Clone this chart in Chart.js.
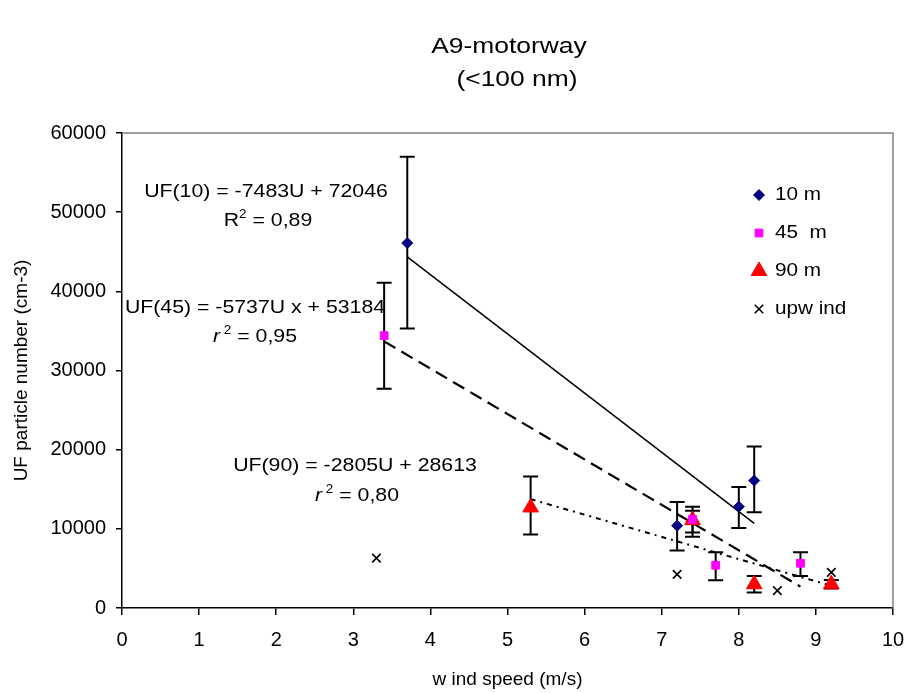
<!DOCTYPE html>
<html>
<head>
<meta charset="utf-8">
<script src="https://cdn.jsdelivr.net/npm/chart.js@4.4.0/dist/chart.umd.min.js"></script>
<style>
  html, body { margin: 0; padding: 0; background: #fff; }
  #wrap { width: 907px; height: 693px; }
</style>
</head>
<body>
<div id="wrap"><canvas id="ufChart" width="907" height="693"></canvas></div>
<script>
// values
const speed10 = [3.7, 7.2, 8.0, 8.2];
const uf10 = [46100, 10400, 12800, 16100];
const uf10Hi = [57000, 13400, 15300, 20400];
const uf10Lo = [35300, 7250, 10100, 12100];

const speed45 = [3.4, 7.4, 7.7, 8.8];
const uf45 = [34400, 11200, 5400, 5650];
const uf45Hi = [41100, 12800, 7050, 7050];
const uf45Lo = [27700, 9000, 3500, 4050];

const speed90 = [5.3, 7.4, 8.2, 9.2];
const uf90 = [12700, 11100, 3000, 3000];
const uf90Hi = [16600, 12300, 4050, 3550];
const uf90Lo = [9300, 9550, 1950, 2450];

const speedUp = [3.3, 7.2, 8.5, 9.2];
const ufUp = [6300, 4250, 2200, 4500];

// trend line end points
const trend10X = [3.7, 8.2];
const trend10Y = [44350, 10680];
const trend45X = [3.4, 8.8];
const trend45Y = [33680, 2700];
const trend90X = [5.3, 9.2];
const trend90Y = [13750, 2810];

const xTicks = [0, 1, 2, 3, 4, 5, 6, 7, 8, 9, 10];
const yTicks = [0, 10000, 20000, 30000, 40000, 50000, 60000];

const FONT = "'Liberation Sans', Arial, sans-serif";

function pts(xs, ys) {
  return xs.map((x, i) => ({ x: x, y: ys[i] }));
}

// draws text with a horizontal stretch, like the original export
function drawRich(ctx, parts, cx, cy, size, sx, align) {
  let w = 0;
  parts.forEach(p => {
    ctx.font = (p.italic ? "italic " : "") + (p.sup ? Math.round(size * 0.65) : size) + "px " + FONT;
    p.w = ctx.measureText(p.t).width;
    w += p.w;
  });
  ctx.save();
  ctx.translate(cx, cy);
  ctx.scale(sx, 1);
  ctx.fillStyle = "#000";
  ctx.textBaseline = "middle";
  ctx.textAlign = "left";
  let x = align === "left" ? 0 : -w / 2;
  parts.forEach(p => {
    ctx.font = (p.italic ? "italic " : "") + (p.sup ? Math.round(size * 0.65) : size) + "px " + FONT;
    ctx.fillText(p.t, x, p.sup ? -size * 0.33 : 0);
    x += p.w;
  });
  ctx.restore();
}

const errorBars = {
  id: "errorBars",
  beforeDatasetsDraw(chart) {
    const { ctx, scales: { x, y } } = chart;
    ctx.save();
    ctx.strokeStyle = "#000";
    ctx.lineWidth = 2;
    chart.data.datasets.forEach(ds => {
      if (!ds.errHi) return;
      ds.data.forEach((p, i) => {
        const px = x.getPixelForValue(p.x);
        const yHi = y.getPixelForValue(ds.errHi[i]);
        const yLo = y.getPixelForValue(ds.errLo[i]);
        ctx.beginPath();
        ctx.moveTo(px, yHi);
        ctx.lineTo(px, yLo);
        ctx.moveTo(px - 7.5, yHi);
        ctx.lineTo(px + 7.5, yHi);
        ctx.moveTo(px - 7.5, yLo);
        ctx.lineTo(px + 7.5, yLo);
        ctx.stroke();
      });
    });
    ctx.restore();
  }
};

const decorations = {
  id: "decorations",
  afterDraw(chart) {
    const { ctx, chartArea: a } = chart;
    // top and right frame
    ctx.save();
    ctx.strokeStyle = "#808080";
    ctx.lineWidth = 1.5;
    ctx.beginPath();
    ctx.moveTo(a.left, a.top);
    ctx.lineTo(a.right, a.top);
    ctx.lineTo(a.right, a.bottom);
    ctx.stroke();
    ctx.restore();

    // title
    drawRich(ctx, [{ t: "A9-motorway" }], 509, 47, 22, 1.2);
    drawRich(ctx, [{ t: "(<100 nm)" }], 517, 80, 22, 1.2);

    // regression labels
    drawRich(ctx, [{ t: "UF(10) = -7483U + 72046" }], 266, 192, 19, 1.12);
    drawRich(ctx, [{ t: "R" }, { t: "2", sup: true }, { t: " = 0,89" }], 268, 221, 19, 1.12);
    drawRich(ctx, [{ t: "UF(45) = -5737U x + 53184" }], 255, 308, 19, 1.12);
    drawRich(ctx, [{ t: "r", italic: true }, { t: " 2", sup: true }, { t: " = 0,95" }], 255, 337, 19, 1.12);
    drawRich(ctx, [{ t: "UF(90) = -2805U + 28613" }], 355, 466, 19, 1.12);
    drawRich(ctx, [{ t: "r", italic: true }, { t: " 2", sup: true }, { t: " = 0,80" }], 357, 496, 19, 1.12);

    // legend
    const rows = [195, 233, 271, 309];
    chart.data.datasets.forEach((ds, i) => {
      if (!ds.legendText) return;
      const yy = rows[i];
      ctx.save();
      ctx.fillStyle = ds.pointBackgroundColor;
      ctx.strokeStyle = ds.pointBorderColor;
      ctx.lineWidth = ds.pointBorderWidth;
      Chart.helpers.drawPoint(ctx, { pointStyle: ds.pointStyle, radius: ds.pointRadius, rotation: 0, borderWidth: ds.pointBorderWidth }, 759, yy);
      ctx.restore();
      drawRich(ctx, [{ t: ds.legendText }], 775, yy, 18, 1.15, "left");
    });
  }
};

const ctx = document.getElementById("ufChart").getContext("2d");

new Chart(ctx, {
  type: "scatter",
  data: {
    datasets: [
      {
        legendText: "10 m",
        data: pts(speed10, uf10),
        errHi: uf10Hi, errLo: uf10Lo,
        pointStyle: "rectRot", pointRadius: 5.5,
        pointBackgroundColor: "#000080", pointBorderColor: "#000080", pointBorderWidth: 1
      },
      {
        legendText: "45  m",
        data: pts(speed45, uf45),
        errHi: uf45Hi, errLo: uf45Lo,
        pointStyle: "rect", pointRadius: 5.5,
        pointBackgroundColor: "#ff00ff", pointBorderColor: "#ff00ff", pointBorderWidth: 1
      },
      {
        legendText: "90 m",
        data: pts(speed90, uf90),
        errHi: uf90Hi, errLo: uf90Lo,
        pointStyle: "triangle", pointRadius: 9,
        pointBackgroundColor: "#ff0000", pointBorderColor: "#ff0000", pointBorderWidth: 1
      },
      {
        legendText: "upw ind",
        data: pts(speedUp, ufUp),
        pointStyle: "crossRot", pointRadius: 6,
        pointBackgroundColor: "#000", pointBorderColor: "#000", pointBorderWidth: 1.6
      },
      {
        data: pts(trend10X, trend10Y),
        showLine: true, pointRadius: 0,
        borderColor: "#000", borderWidth: 1.5
      },
      {
        data: pts(trend45X, trend45Y),
        showLine: true, pointRadius: 0,
        borderColor: "#000", borderWidth: 2.2, borderDash: [13, 7]
      },
      {
        data: pts(trend90X, trend90Y),
        showLine: true, pointRadius: 0,
        borderColor: "#000", borderWidth: 2, borderDash: [5, 5, 2, 5]
      }
    ]
  },
  options: {
    responsive: false,
    animation: false,
    layout: { padding: { top: 133, right: 14, left: 0, bottom: 0 } },
    plugins: {
      legend: { display: false },
      tooltip: { enabled: false }
    },
    scales: {
      x: {
        type: "linear",
        min: xTicks[0],
        max: xTicks[xTicks.length - 1],
        afterBuildTicks(s) { s.ticks = xTicks.map(v => ({ value: v })); },
        afterFit(s) { s.height = 85; s.paddingRight = 0; s.paddingLeft = 0; },
        ticks: { color: "#000", font: { family: FONT, size: 20 }, padding: 13, maxRotation: 0, autoSkip: false },
        grid: { drawOnChartArea: false, drawTicks: true, tickLength: 7, color: "#000", lineWidth: 1.5 },
        border: { color: "#000", width: 1.5 },
        title: { display: true, text: "w ind speed (m/s)", color: "#000", font: { family: FONT, size: 19 }, padding: { top: 0, bottom: 2 } }
      },
      y: {
        min: yTicks[0],
        max: yTicks[yTicks.length - 1],
        afterBuildTicks(s) { s.ticks = yTicks.map(v => ({ value: v })); },
        afterFit(s) { s.width = 122; },
        ticks: { color: "#000", font: { family: FONT, size: 20 }, padding: 10, callback: v => String(v) },
        grid: { drawOnChartArea: false, drawTicks: true, tickLength: 6, color: "#000", lineWidth: 1.5 },
        border: { color: "#000", width: 1.5 },
        title: { display: true, text: "UF particle number (cm-3)", color: "#000", font: { family: FONT, size: 19 }, padding: { top: 10, bottom: 0 } }
      }
    }
  },
  plugins: [errorBars, decorations]
});
</script>
</body>
</html>
